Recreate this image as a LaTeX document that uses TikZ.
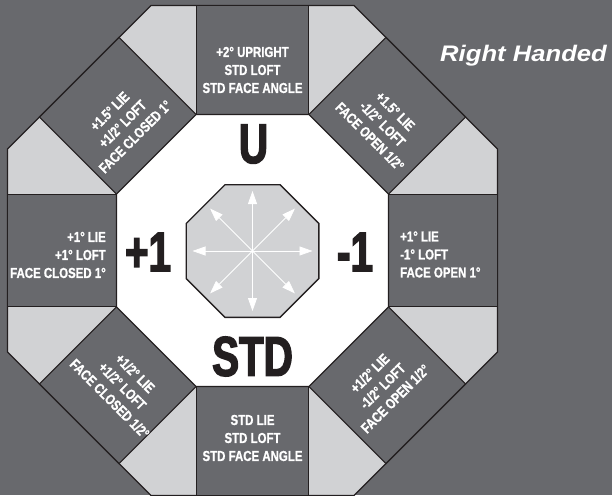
\documentclass[tikz,border=0pt]{standalone}
\usepackage{fontspec}
\setmainfont{Liberation Sans}
\newfontfamily\condfont{Liberation Sans}[FakeStretch=0.79,FakeBold=1]
\newfontfamily\bigfont{Liberation Sans}[FakeStretch=0.72,FakeBold=2.5]
\newfontfamily\rhfont{Liberation Sans}[FakeStretch=1.14]
\usetikzlibrary{calc,arrows.meta}
\definecolor{bg}{HTML}{68696D}
\definecolor{lightg}{HTML}{D1D2D4}
\definecolor{ink}{HTML}{231F20}
\begin{document}
\begin{tikzpicture}[x=1pt,y=-1pt,
  edge/.style={draw=ink,line width=1.1pt,line join=miter},
  info/.style={text=white,font=\condfont\bfseries\fontsize{14.5}{18}\selectfont,inner sep=0pt,align=center},
  biglabel/.style={text=ink,font=\bigfont\bfseries\fontsize{56}{56}\selectfont,inner sep=0pt},
  ray/.style={white,line width=0.8pt,-{Triangle[length=13pt,width=9pt]}}]
\fill[bg] (0,0) rectangle (612,495);
\useasboundingbox (0,0) rectangle (612,495);
\coordinate (C) at (252.5,250.5);
\coordinate (S) at (252.5,251);
% outer octagon
\path[edge,fill=lightg] ($(C)+(-101.48,-245)$) -- ($(C)+(101.48,-245)$) -- ($(C)+(245,-101.48)$) -- ($(C)+(245,101.48)$) -- ($(C)+(101.48,245)$) -- ($(C)+(-101.48,245)$) -- ($(C)+(-245,101.48)$) -- ($(C)+(-245,-101.48)$) -- cycle;
% dark panels
\foreach \t in {0,45,...,315}{
  \path[edge,fill=bg] ($(C)+(\t:136)+(\t+90:56.33)$) -- ($(C)+(\t:245)+(\t+90:56.33)$) -- ($(C)+(\t:245)+(\t-90:56.33)$) -- ($(C)+(\t:136)+(\t-90:56.33)$) -- cycle;
}
% inner white octagon
\path[edge,fill=white] ($(C)+(-56.33,-136)$) -- ($(C)+(56.33,-136)$) -- ($(C)+(136,-56.33)$) -- ($(C)+(136,56.33)$) -- ($(C)+(56.33,136)$) -- ($(C)+(-56.33,136)$) -- ($(C)+(-136,56.33)$) -- ($(C)+(-136,-56.33)$) -- cycle;
% small octagon
\path[edge,fill=lightg,line width=1.4pt] ($(S)+(-27.46,-66.3)$) -- ($(S)+(27.46,-66.3)$) -- ($(S)+(66.3,-27.46)$) -- ($(S)+(66.3,27.46)$) -- ($(S)+(27.46,66.3)$) -- ($(S)+(-27.46,66.3)$) -- ($(S)+(-66.3,27.46)$) -- ($(S)+(-66.3,-27.46)$) -- cycle;
\foreach \t in {0,45,...,315}{
  \draw[ray] (S) -- ($(S)+(\t:60)$);
}
% big labels
\node[biglabel] (u) at (253.5,144) {U};
\node[biglabel] (plus) at (148,252) {+1};
\node[biglabel] (minus) at (355,252) {-1};
\node[biglabel] (std) at (252.5,356.5) {STD};
% panel texts
\node[info] (top) at (252.5,70) {+2° UPRIGHT\\STD LOFT\\STD FACE ANGLE};
\node[info] (bottom) at (252.5,438) {STD LIE\\STD LOFT\\STD FACE ANGLE};
\node[info,align=right,anchor=east] (left) at (106,255) {+1° LIE\\+1° LOFT\\FACE CLOSED 1°};
\node[info,align=left,anchor=west] (right) at (400,254.5) {+1° LIE\\-1° LOFT\\FACE OPEN 1°};
\node[info,rotate=45] (tl) at (122.5,124) {+1.5° LIE\\+1/2° LOFT\\FACE CLOSED 1°};
\node[info,rotate=-45] (tr) at (382.5,124) {+1.5° LIE\\-1/2° LOFT\\FACE OPEN 1/2°};
\node[info,rotate=-45] (bl) at (122.5,386) {+1/2° LIE\\+1/2° LOFT\\FACE CLOSED 1/2°};
\node[info,rotate=45] (br) at (382.5,386) {+1/2° LIE\\-1/2° LOFT\\FACE OPEN 1/2°};
\node[text=white,font=\rhfont\bfseries\itshape\fontsize{22.5}{27}\selectfont,inner sep=0pt,anchor=base west] (rh) at (440,62) {Right Handed};
\end{tikzpicture}
\end{document}
